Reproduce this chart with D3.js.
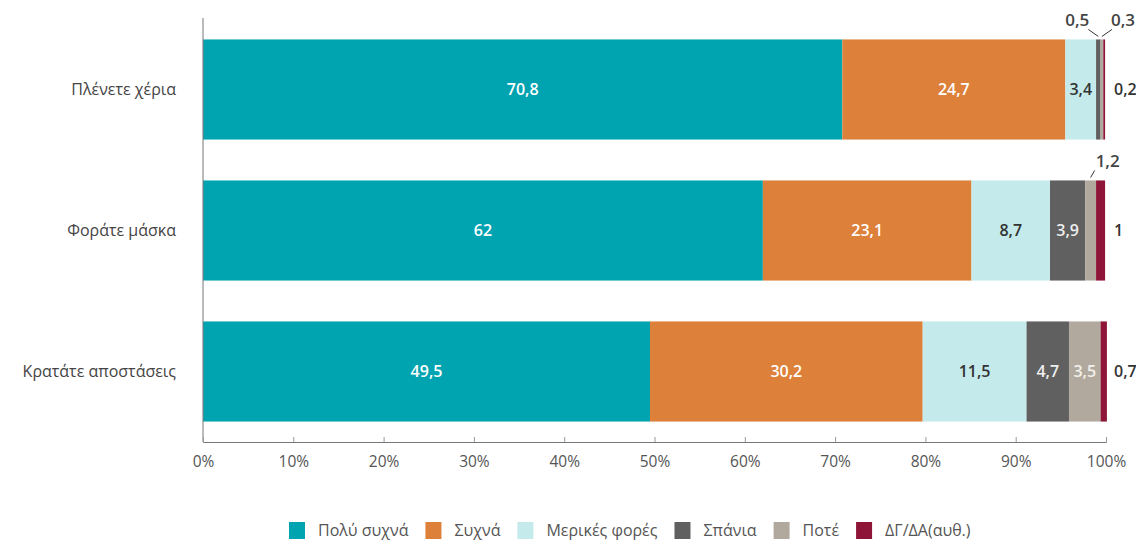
<!DOCTYPE html>
<html><head><meta charset="utf-8">
<script src="https://cdn.jsdelivr.net/npm/d3@7"></script>
<style>
body{margin:0;background:#fff;}
svg{display:block;font-family:"Open Sans","Noto Sans",sans-serif;}
</style></head>
<body><svg id="c" width="1136" height="544"></svg>
<script>
const categories = ["Πλένετε χέρια", "Φοράτε μάσκα", "Κρατάτε αποστάσεις"];
const seriesNames = ["Πολύ συχνά", "Συχνά", "Μερικές φορές", "Σπάνια", "Ποτέ", "ΔΓ/ΔΑ(αυθ.)"];
const polySyxna = [70.8, 62, 49.5];
const syxna = [24.7, 23.1, 30.2];
const merikes = [3.4, 8.7, 11.5];
const spania = [0.5, 3.9, 4.7];
const pote = [0.3, 1.2, 3.5];
const dgda = [0.2, 1, 0.7];
const tickValues = [0,10,20,30,40,50,60,70,80,90,100];
const colors = ["#00a3b0", "#dd803a", "#c4eaeb", "#606060", "#b2a99e", "#8e1537"];
const labelColors = ["#fff", "#fff", "#333", "#eee", "#f2f0ec", "#fff"];

const seriesValues = [polySyxna, syxna, merikes, spania, pote, dgda];
const svg = d3.select("#c");
const m = {left: 203, right: 1106, top: 19, bottom: 442};

const x = d3.scaleLinear().domain([0,100]).range([m.left, m.right]);
const y = d3.scaleBand().domain(categories).range([m.top, m.bottom]).paddingInner(0.29).paddingOuter(0.145);

const rows = categories.map((c, i) => {
  let acc = 0;
  return seriesValues.map((s, k) => {
    const v = s[i]; const seg = {cat: c, k, v, x0: acc, x1: acc + v}; acc += v; return seg;
  });
});

// bars
const g = svg.append("g");
rows.forEach(r => {
  g.selectAll(null).data(r).enter().append("rect")
    .attr("x", d => x(d.x0)).attr("width", d => x(d.x1) - x(d.x0))
    .attr("y", d => y(d.cat)).attr("height", y.bandwidth())
    .attr("fill", d => colors[d.k]);
});

// axes
svg.append("line").attr("x1", m.left).attr("x2", m.left).attr("y1", 18).attr("y2", m.bottom).attr("stroke", "#777").attr("stroke-width", 1);
const xa = svg.append("g").attr("transform", `translate(0,${m.bottom})`)
  .call(d3.axisBottom(x).tickValues(tickValues).tickSize(-5).tickFormat(d => d + "%"));
xa.select(".domain").attr("stroke", "#777");
xa.selectAll(".tick line").attr("stroke", "#999");
xa.selectAll(".tick text").attr("dy", "1.45em").attr("font-size", 15.5).attr("fill", "#555").attr("font-family", "'Open Sans', sans-serif");

// category labels
svg.selectAll(null).data(categories).enter().append("text")
  .attr("x", 176).attr("y", d => y(d) + y.bandwidth()/2).attr("dy", "0.35em")
  .attr("text-anchor", "end").attr("font-size", 16).attr("fill", "#444").text(d => d);

const fmt = v => String(v).replace(".", ",");

// value labels
rows.forEach((r, i) => {
  const cy = y(r[0].cat) + y.bandwidth()/2;
  const small = r.filter(d => x(d.x1) - x(d.x0) < 20);
  r.forEach(d => {
    const w = x(d.x1) - x(d.x0);
    if (w >= 20) {
      svg.append("text").attr("x", (x(d.x0)+x(d.x1))/2).attr("y", cy).attr("dy", "0.35em")
        .attr("text-anchor", "middle").attr("font-size", 16).attr("font-weight", 600)
        .attr("fill", labelColors[d.k]).text(fmt(d.v));
    }
  });
  const last = small[small.length - 1];
  if (last) {
    svg.append("text").attr("x", m.right + 8).attr("y", cy).attr("dy", "0.35em")
      .attr("font-size", 16).attr("font-weight", 600).attr("fill", "#333").text(fmt(last.v));
  }
  const above = small.slice(0, -1);
  const top = y(r[0].cat);
  above.forEach((d, j) => {
    const mx = (x(d.x0)+x(d.x1))/2;
    const dir = above.length === 1 ? 1 : (j === 0 ? -1 : 1);
    const lx = mx + dir * (above.length === 1 ? 4 : 10);
    svg.append("line").attr("x1", mx).attr("y1", top - 3).attr("x2", lx).attr("y2", top - 10)
      .attr("stroke", "#333").attr("stroke-width", 1);
    svg.append("text").attr("x", lx + dir * (above.length === 1 ? 1 : -1)).attr("y", top - 13)
      .attr("text-anchor", above.length === 1 ? "start" : (dir < 0 ? "end" : "start"))
      .attr("font-size", 17).attr("font-weight", 600).attr("fill", "#444").text(fmt(d.v));
  });
});

// legend
const lg = svg.append("g").attr("transform", "translate(0,530)");
let lx = 289;
seriesNames.forEach((n, k) => {
  lg.append("rect").attr("x", lx).attr("y", -8).attr("width", 16).attr("height", 17).attr("fill", colors[k]);
  const t = lg.append("text").attr("x", lx + 29).attr("y", 0).attr("dy", "0.35em")
    .attr("font-size", 16).attr("fill", "#555").text(n);
  lx += 29 + t.node().getComputedTextLength() + 17;
});
</script></body></html>
